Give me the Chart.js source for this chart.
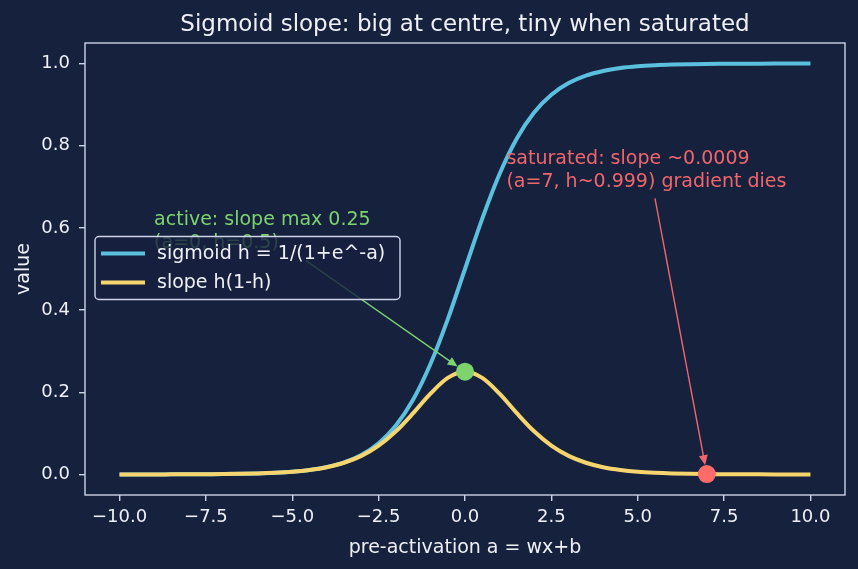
<!DOCTYPE html>
<html>
<head>
<meta charset="utf-8">
<script src="https://cdn.jsdelivr.net/npm/chart.js@4.4.1/dist/chart.umd.min.js"></script>
<style>
  html, body { margin: 0; padding: 0; background: #16213e; }
  #wrap { width: 858px; height: 569px; }
</style>
</head>
<body>
<div id="wrap"><canvas id="chart" width="858" height="569"></canvas></div>
<script>
'use strict'

// values (step 0.5 along a)
let aValues = [-10, -9.5, -9, -8.5, -8, -7.5, -7, -6.5, -6, -5.5, -5, -4.5, -4, -3.5, -3, -2.5, -2, -1.5, -1, -0.5,
    0, 0.5, 1, 1.5, 2, 2.5, 3, 3.5, 4, 4.5, 5, 5.5, 6, 6.5, 7, 7.5, 8, 8.5, 9, 9.5, 10];
let sigmoidValues = [0.0000, 0.0001, 0.0001, 0.0002, 0.0003, 0.0006, 0.0009, 0.0015, 0.0025, 0.0041, 0.0067, 0.0110, 0.0180, 0.0293, 0.0474, 0.0759, 0.1192, 0.1824, 0.2689, 0.3775,
    0.5000, 0.6225, 0.7311, 0.8176, 0.8808, 0.9241, 0.9526, 0.9707, 0.9820, 0.9890, 0.9933, 0.9959, 0.9975, 0.9985, 0.9991, 0.9994, 0.9997, 0.9998, 0.9999, 0.9999, 1.0000];
let slopeValues = [0.0000, 0.0001, 0.0001, 0.0002, 0.0003, 0.0006, 0.0009, 0.0015, 0.0025, 0.0041, 0.0066, 0.0109, 0.0177, 0.0285, 0.0452, 0.0701, 0.1050, 0.1491, 0.1966, 0.2350,
    0.2500, 0.2350, 0.1966, 0.1491, 0.1050, 0.0701, 0.0452, 0.0285, 0.0177, 0.0109, 0.0066, 0.0041, 0.0025, 0.0015, 0.0009, 0.0006, 0.0003, 0.0002, 0.0001, 0.0001, 0.0000];

// highlighted points
let markA = [0, 7];
let markValue = [0.25, 0.0009];
let markColors = ['#7ed36f', '#ff6b6b'];

let xTicks = [-10, -7.5, -5, -2.5, 0, 2.5, 5, 7.5, 10];
let yTicks = [0, 0.2, 0.4, 0.6, 0.8, 1.0];

let titleText = 'Sigmoid slope: big at centre, tiny when saturated';
let xLabel = 'pre-activation a = wx+b';
let yLabel = 'value';

// annotations: text lines, text anchor (data), arrow start (data), arrow target (data)
let notes = [
    { lines: ['active: slope max 0.25', '(a=0, h=0.5)'], color: '#7ed36f', tx: -9, ty: 0.55, sx: -4.6, sy: 0.52, ex: 0, ey: 0.25 },
    { lines: ['saturated: slope ~0.0009', '(a=7, h~0.999) gradient dies'], color: '#f0666b', tx: 1.2, ty: 0.7, sx: 5.5, sy: 0.672, ex: 7, ey: 0.0009 }
];

const bg = '#16213e';
const fg = '#eef0f6';
const spine = '#cdd3e6';
const font = "'DejaVu Sans', sans-serif";

function toPoints(xs, ys) {
    let out = [];
    for (let i = 0; i < xs.length; i++) {
        out.push({ x: xs[i], y: ys[i] });
    }
    return out;
}

function fmt(v) {
    return v.toFixed(1).replace('-', '\u2212');
}

const decor = {
    id: 'decor',
    beforeDraw(chart) {
        let ctx = chart.ctx;
        ctx.save();
        ctx.fillStyle = bg;
        ctx.fillRect(0, 0, chart.width, chart.height);
        ctx.restore();
    },
    afterDraw(chart) {
        let ctx = chart.ctx;
        let area = chart.chartArea;
        let xs = chart.scales.x;
        let ys = chart.scales.y;
        ctx.save();

        // frame
        ctx.strokeStyle = spine;
        ctx.lineWidth = 1.4;
        ctx.strokeRect(area.left, area.top, area.right - area.left, area.bottom - area.top);

        // title and axis labels
        ctx.fillStyle = fg;
        ctx.textAlign = 'center';
        ctx.textBaseline = 'alphabetic';
        ctx.font = '23px ' + font;
        ctx.fillText(titleText, (area.left + area.right) / 2, 31);
        ctx.font = '19px ' + font;
        ctx.fillText(xLabel, (area.left + area.right) / 2, 553);
        ctx.save();
        ctx.translate(29, (area.top + area.bottom) / 2);
        ctx.rotate(-Math.PI / 2);
        ctx.fillText(yLabel, 0, 0);
        ctx.restore();

        // annotations
        ctx.font = '19px ' + font;
        ctx.textAlign = 'left';
        notes.forEach(function (n) {
            let px = xs.getPixelForValue(n.tx);
            let py = ys.getPixelForValue(n.ty);
            ctx.fillStyle = n.color;
            for (let i = 0; i < n.lines.length; i++) {
                ctx.fillText(n.lines[i], px, py - (n.lines.length - 1 - i) * 23);
            }
            let x0 = xs.getPixelForValue(n.sx), y0 = ys.getPixelForValue(n.sy);
            let x1 = xs.getPixelForValue(n.ex), y1 = ys.getPixelForValue(n.ey);
            let ang = Math.atan2(y1 - y0, x1 - x0);
            x1 -= Math.cos(ang) * 9;
            y1 -= Math.sin(ang) * 9;
            ctx.strokeStyle = n.color;
            ctx.lineWidth = 1.4;
            ctx.beginPath();
            ctx.moveTo(x0, y0);
            ctx.lineTo(x1 - Math.cos(ang) * 6, y1 - Math.sin(ang) * 6);
            ctx.stroke();
            ctx.fillStyle = n.color;
            ctx.beginPath();
            ctx.moveTo(x1, y1);
            ctx.lineTo(x1 - Math.cos(ang) * 10 + Math.sin(ang) * 4.5, y1 - Math.sin(ang) * 10 - Math.cos(ang) * 4.5);
            ctx.lineTo(x1 - Math.cos(ang) * 10 - Math.sin(ang) * 4.5, y1 - Math.sin(ang) * 10 + Math.cos(ang) * 4.5);
            ctx.closePath();
            ctx.fill();
        });

        // legend, center left
        let items = chart.data.datasets.filter(d => d.legend);
        let lw = 305, lh = 63;
        let lx = area.left + 10;
        let ly = (area.top + area.bottom) / 2 - lh / 2 - 1;
        ctx.globalAlpha = 0.8;
        ctx.fillStyle = bg;
        ctx.beginPath();
        ctx.roundRect(lx, ly, lw, lh, 4);
        ctx.fill();
        ctx.globalAlpha = 1;
        ctx.strokeStyle = spine;
        ctx.lineWidth = 1.4;
        ctx.stroke();
        ctx.font = '19px ' + font;
        ctx.textBaseline = 'middle';
        items.forEach(function (d, i) {
            let yy = ly + 17 + i * 29;
            ctx.strokeStyle = d.borderColor;
            ctx.lineWidth = 4;
            ctx.beginPath();
            ctx.moveTo(lx + 6, yy);
            ctx.lineTo(lx + 50, yy);
            ctx.stroke();
            ctx.fillStyle = fg;
            ctx.fillText(d.legend, lx + 62, yy + 1);
        });
        ctx.restore();
    }
};

let canvas = document.getElementById('chart');
const chart = new Chart(canvas, {
    type: 'line',
    data: {
        datasets: [
            {
                label: 'marks',
                type: 'scatter',
                data: toPoints(markA, markValue),
                pointRadius: 9,
                pointBackgroundColor: markColors,
                pointBorderWidth: 0,
                order: 0
            },
            {
                label: 'sigmoid',
                legend: 'sigmoid h = 1/(1+e^-a)',
                data: toPoints(aValues, sigmoidValues),
                borderColor: '#5bc0de',
                borderWidth: 4,
                pointRadius: 0,
                cubicInterpolationMode: 'monotone',
                order: 2
            },
            {
                label: 'slope',
                legend: 'slope h(1-h)',
                data: toPoints(aValues, slopeValues),
                borderColor: '#f6d56f',
                borderWidth: 4,
                pointRadius: 0,
                cubicInterpolationMode: 'monotone',
                order: 1
            }
        ]
    },
    options: {
        responsive: false,
        animation: false,
        layout: { padding: { left: 0, right: 13, top: 43, bottom: 0 } },
        plugins: {
            legend: { display: false },
            tooltip: { enabled: false }
        },
        scales: {
            x: {
                type: 'linear',
                min: -11,
                max: 11,
                afterFit: function (s) { s.height = 74; },
                afterBuildTicks: function (s) { s.ticks = xTicks.map(v => ({ value: v })); },
                grid: { drawOnChartArea: false, drawTicks: true, tickLength: 6, color: spine, lineWidth: 1.4 },
                border: { display: false },
                ticks: {
                    color: fg,
                    font: { family: font, size: 18 },
                    padding: 6,
                    maxRotation: 0,
                    autoSkip: false,
                    callback: v => fmt(v)
                }
            },
            y: {
                min: -0.05,
                max: 1.05,
                afterFit: function (s) { s.width = 85; },
                afterBuildTicks: function (s) { s.ticks = yTicks.map(v => ({ value: v })); },
                grid: { drawOnChartArea: false, drawTicks: true, tickLength: 6, color: spine, lineWidth: 1.4 },
                border: { display: false },
                ticks: {
                    color: fg,
                    font: { family: font, size: 18 },
                    padding: 9,
                    autoSkip: false,
                    callback: v => fmt(v)
                }
            }
        }
    },
    plugins: [decor]
});
</script>
</body>
</html>
